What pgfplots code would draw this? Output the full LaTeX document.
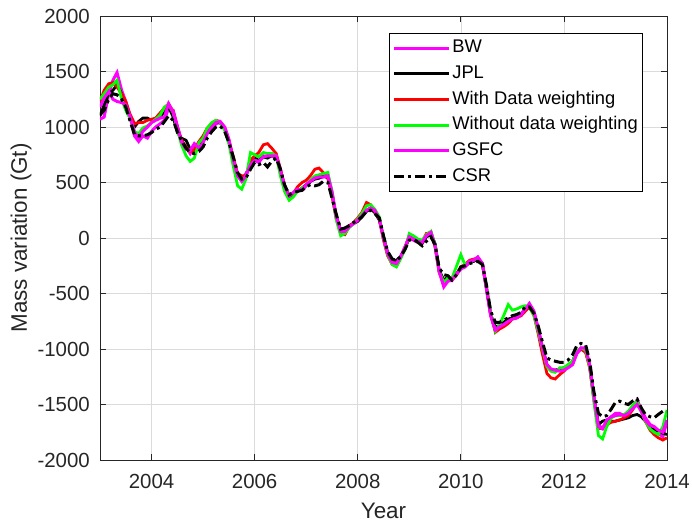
\documentclass[border=0pt]{standalone}
\usepackage{fontspec}
\setmainfont{Liberation Sans}
\usepackage{pgfplots}
\usepackage{pgfplotstable}
\pgfplotsset{compat=1.18}

\definecolor{axgray}{rgb}{0.15,0.15,0.15}
\definecolor{gridgray}{rgb}{0.86,0.86,0.86}
\definecolor{mag}{rgb}{1,0,1}
\definecolor{grn}{rgb}{0,1,0}
\definecolor{rd}{rgb}{1,0,0}

% Monthly mass variation (Gt) from the six solutions
\pgfplotstableread{
t       BW     JPL    WDW    WODW   GSFC   CSR
2003.00 1070   1100   1230   1250   1180   1110
2003.08 1090   1200   1330   1300   1260   1150
2003.17 1300   1300   1390   1360   1320   1250
2003.25 1420   1330   1400   1380   1250   1300
2003.33 1490   1380   1360   1420   1230   1290
2003.42 1330   1300   1300   1250   1220   1250
2003.50 1230   1200   1230   1150   1200   1180
2003.58 1100   1080   1120   1080   1100   1060
2003.67 920    1000   1030   960    950    930
2003.75 870    1050   1040   940    900    920
2003.83 920    1080   1040   990    960    920
2003.92 900    1080   1060   1010   1000   930
2004.00 960    1060   1070   1040   1040   950
2004.08 1000   1080   1080   1070   1060   980
2004.17 1030   1100   1130   1110   1080   1000
2004.25 1060   1130   1170   1180   1090   1050
2004.33 1170   1180   1210   1200   1210   1100
2004.42 1150   1090   1140   1130   1130   1060
2004.50 1010   950    1000   980    1000   960
2004.58 880    900    880    840    870    880
2004.67 820    880    820    740    800    810
2004.75 760    800    780    690    790    770
2004.83 820    780    790    720    850    760
2004.92 860    820    870    860    810    780
2005.00 870    880    920    900    860    820
2005.08 950    950    990    990    940    900
2005.17 1000   1010   1030   1040   1000   960
2005.25 1030   1040   1060   1060   1040   1000
2005.33 1040   1040   1050   1040   1050   1010
2005.42 990    980    990    970    1000   960
2005.50 880    870    880    850    890    860
2005.58 700    720    740    660    720    740
2005.67 560    560    580    470    560    590
2005.75 520    540    560    440    510    530
2005.83 580    560    560    530    560    540
2005.92 640    680    700    770    660    620
2006.00 700    720    740    750    700    680
2006.08 680    700    770    730    690    660
2006.17 740    730    840    770    730    680
2006.25 730    720    850    760    740    640
2006.33 760    740    810    760    740    690
2006.42 740    730    760    740    740    720
2006.50 620    600    620    560    610    620
2006.58 470    460    470    420    470    480
2006.67 380    370    380    340    380    390
2006.75 400    400    400    370    410    410
2006.83 440    420    460    420    440    420
2006.92 430    450    500    450    430    430
2007.00 470    480    520    470    480    460
2007.08 510    510    560    520    510    480
2007.17 540    530    620    560    540    470
2007.25 540    540    630    570    550    480
2007.33 550    560    590    580    550    510
2007.42 560    540    540    590    560    500
2007.50 420    400    380    420    410    360
2007.58 200    200    180    170    200    220
2007.67 60     70     40     20     60     80
2007.75 70     80     30     40     60     90
2007.83 110    110    100    90     100    110
2007.92 130    130    140    130    130    140
2008.00 160    150    180    170    160    160
2008.08 200    190    230    220    200    190
2008.17 250    240    320    290    250    240
2008.25 270    260    300    300    270    250
2008.33 240    230    240    260    250    220
2008.42 170    160    170    190    170    180
2008.50 0      10     -20    0      0      20
2008.58 -140   -130   -160   -150   -140   -120
2008.67 -210   -200   -240   -240   -220   -190
2008.75 -220   -200   -250   -260   -230   -200
2008.83 -170   -170   -180   -190   -170   -170
2008.92 -80    -90    -80    -100   -80    -100
2009.00 10     0      20     40     10     -20
2009.08 -20    -10    0      20     -10    -10
2009.17 -40    -30    -20    -10    -30    -40
2009.25 -30    -50    -40    -20    -40    -70
2009.33 20     10     40     30     20     -30
2009.42 50     30     50     60     50     10
2009.50 -60    -50    -80    -60    -70    -60
2009.58 -300   -290   -310   -300   -300   -270
2009.67 -430   -380   -410   -400   -440   -330
2009.75 -380   -350   -370   -360   -390   -340
2009.83 -360   -370   -380   -360   -380   -380
2009.92 -330   -320   -330   -250   -320   -330
2010.00 -270   -270   -260   -150   -280   -260
2010.08 -260   -250   -240   -240   -260   -250
2010.17 -220   -220   -200   -220   -210   -230
2010.25 -210   -210   -190   -200   -200   -220
2010.33 -180   -190   -180   -190   -170   -210
2010.42 -240   -230   -240   -240   -230   -240
2010.50 -470   -460   -450   -450   -460   -430
2010.58 -700   -690   -690   -680   -700   -660
2010.67 -830   -800   -850   -840   -830   -760
2010.75 -790   -790   -820   -780   -800   -760
2010.83 -770   -760   -800   -700   -780   -740
2010.92 -740   -730   -770   -600   -750   -720
2011.00 -720   -720   -730   -650   -730   -700
2011.08 -720   -710   -720   -640   -720   -690
2011.17 -680   -690   -700   -620   -690   -670
2011.25 -640   -650   -660   -610   -640   -620
2011.33 -590   -620   -620   -620   -600   -620
2011.42 -660   -690   -700   -700   -670   -680
2011.50 -820   -830   -860   -840   -810   -790
2011.58 -980   -980   -1040  -990   -980   -930
2011.67 -1150  -1140  -1220  -1160  -1140  -1080
2011.75 -1190  -1190  -1260  -1200  -1180  -1100
2011.83 -1200  -1190  -1270  -1210  -1190  -1110
2011.92 -1190  -1180  -1230  -1170  -1200  -1120
2012.00 -1180  -1170  -1200  -1170  -1190  -1120
2012.08 -1160  -1150  -1160  -1140  -1170  -1100
2012.17 -1130  -1110  -1110  -1110  -1140  -1050
2012.25 -1040  -1020  -1030  -1020  -1040  -970
2012.33 -1000  -1000  -1000  -990   -990   -950
2012.42 -1000  -1020  -1030  -1010  -990   -960
2012.50 -1150  -1150  -1170  -1160  -1140  -1110
2012.58 -1430  -1430  -1450  -1470  -1420  -1380
2012.67 -1690  -1680  -1720  -1780  -1700  -1580
2012.75 -1710  -1650  -1710  -1810  -1720  -1610
2012.83 -1660  -1640  -1680  -1700  -1640  -1600
2012.92 -1610  -1650  -1660  -1620  -1610  -1540
2013.00 -1580  -1650  -1650  -1600  -1600  -1480
2013.08 -1580  -1640  -1640  -1600  -1590  -1470
2013.17 -1600  -1630  -1620  -1590  -1600  -1490
2013.25 -1580  -1620  -1600  -1560  -1580  -1500
2013.33 -1530  -1600  -1550  -1510  -1540  -1470
2013.42 -1460  -1590  -1480  -1470  -1500  -1450
2013.50 -1540  -1610  -1560  -1560  -1560  -1530
2013.58 -1620  -1650  -1650  -1650  -1640  -1590
2013.67 -1680  -1700  -1730  -1720  -1690  -1610
2013.75 -1700  -1720  -1770  -1750  -1700  -1620
2013.83 -1760  -1740  -1800  -1770  -1730  -1590
2013.92 -1790  -1760  -1820  -1700  -1750  -1560
2014.00 -1650  -1770  -1800  -1550  -1640  -1560
}\massdata

\begin{document}
\begin{tikzpicture}
\useasboundingbox (-100bp,-67bp) rectangle (592bp,460bp);
\begin{axis}[
  at={(0,0)}, anchor=south west,
  scale only axis, width=567bp, height=444bp,
  xmin=2003, xmax=2014, ymin=-2000, ymax=2000,
  xtick={2004,2006,...,2014},
  ytick={-2000,-1500,...,2000},
  scaled ticks=false,
  /pgf/number format/1000 sep={},
  /pgf/number format/assume math mode=true,
  ticklabel style={font=\fontsize{20.5}{23}\selectfont, text=axgray, inner sep=0pt},
  xticklabel style={anchor=north, yshift=-14bp},
  yticklabel style={anchor=east, xshift=-10bp},
  xlabel={Year}, ylabel={Mass variation (Gt)},
  label style={font=\fontsize{22.5}{26}\selectfont, text=axgray, inner sep=0pt},
  xlabel style={at={(rel axis cs:0.5,-0.115)}, anchor=center},
  ylabel style={at={(rel axis cs:-0.1393,0.5)}, anchor=center},
  grid=major,
  major grid style={gridgray, line width=0.6pt},
  axis line style={axgray, line width=0.7pt},
  tick style={axgray, line width=0.7pt},
  tick align=inside, tick pos=both, major tick length=6bp,
  legend cell align=left,
  legend style={at={(0.958,0.962)}, anchor=north east,
    draw=black, line width=0.8pt,
    font=\fontsize{18.4}{21}\selectfont,
    nodes={text height=13.5bp, text depth=4bp, inner ysep=4.1bp}},
  legend image code/.code={\draw[#1] (0bp,0bp) -- (55bp,0bp);},
]
\addplot[mag, line width=3bp] table[x=t, y=BW] {\massdata};
\addlegendentry{BW}
\addplot[black, line width=2.8bp] table[x=t, y=JPL] {\massdata};
\addlegendentry{JPL}
\addplot[rd, line width=2.8bp] table[x=t, y=WDW] {\massdata};
\addlegendentry{With Data weighting}
\addplot[grn, line width=2.8bp] table[x=t, y=WODW] {\massdata};
\addlegendentry{Without data weighting}
\addplot[mag, line width=3bp] table[x=t, y=GSFC] {\massdata};
\addlegendentry{GSFC}
\addplot[black, line width=3bp, dash pattern=on 10bp off 4bp on 3bp off 4bp] table[x=t, y=CSR] {\massdata};
\addlegendentry{CSR}
\end{axis}
\end{tikzpicture}
\end{document}
